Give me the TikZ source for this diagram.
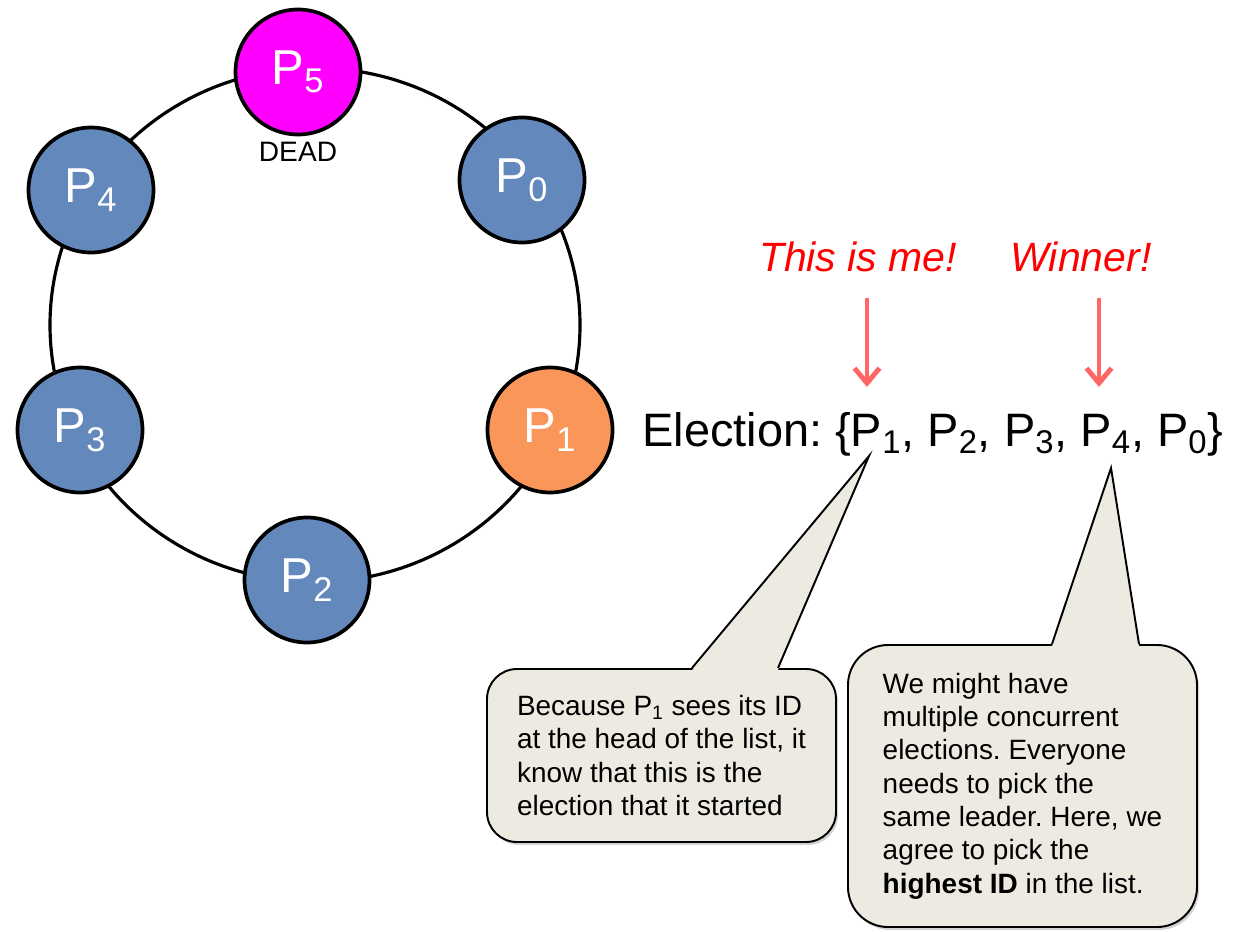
\documentclass[tikz,border=0pt]{standalone}
\usepackage{fontspec}
\setmainfont{Liberation Sans}
\usetikzlibrary{positioning,arrows.meta,shadows}
\definecolor{procblue}{RGB}{99,136,187}
\definecolor{procorange}{RGB}{250,150,90}
\definecolor{procdead}{RGB}{255,0,255}
\definecolor{notefill}{RGB}{237,235,225}
\definecolor{markred}{RGB}{255,102,102}
\newcommand{\proc}[1]{P\textsubscript{#1}}
\frenchspacing

\begin{document}
\begin{tikzpicture}[
	proc/.style={circle, draw, line width=2.1pt, fill=procblue, text=white,
		minimum size=2.5cm, inner sep=0pt, font=\fontsize{27.9}{30}\selectfont},
	ring/.style={line width=1.8pt},
	note/.style={draw, line width=1.1pt, fill=notefill, align=left,
		font=\fontsize{15.9}{19}\selectfont,
		drop shadow={shadow xshift=0.04cm, shadow yshift=-0.06cm, opacity=0.35}},
	noteedge/.style={line width=1.1pt},
	shout/.style={text=red, font=\fontsize{23.3}{26}\selectfont\itshape},
	pointer/.style={draw=markred, line width=2.8pt,
		-{Straight Barb[length=0.3cm, width=0.5cm]}}
]
\useasboundingbox (0,0) rectangle (24.72,-18.62);

	% the ring
	\draw[ring] (6.3,-6.5) ellipse [x radius=5.3, y radius=5.14];

	\node[proc, fill=procdead] (p5) at (5.96,-1.44) {\proc{5}};
	\node[proc] (p0) at (10.44,-3.60) {\proc{0}};
	\node[proc, fill=procorange] (p1) at (11.00,-8.60) {\proc{1}};
	\node[proc] (p2) at (6.14,-11.60) {\proc{2}};
	\node[proc] (p3) at (1.60,-8.60) {\proc{3}};
	\node[proc] (p4) at (1.82,-3.80) {\proc{4}};
	\node[below=0pt of p5, font=\fontsize{16}{18}\selectfont] (dead) {DEAD};

	% the message
	\node[anchor=base west, inner sep=0pt, font=\fontsize{26.7}{30}\selectfont] (election)
		at (12.84,-8.92) {Election: \{\proc{1}, \proc{2}, \proc{3}, \proc{4}, \proc{0}\}};

	\node[shout, anchor=base] (me) at (17.16,-5.42) {This is me!};
	\node[shout, anchor=base] (winner) at (21.62,-5.42) {Winner!};
	\coordinate (meTop) at (17.34,-5.96);
	\coordinate (meTip) at (17.34,-7.74);
	\coordinate (winTop) at (21.98,-5.96);
	\coordinate (winTip) at (21.98,-7.74);
	\draw[pointer] (meTop) -- (meTip);
	\draw[pointer] (winTop) -- (winTip);

	% callouts
	\node[note, rounded corners=0.6cm, minimum width=6.98cm, minimum height=3.46cm]
		(headnote) at (13.23,-15.11)
		{Because \proc{1} sees its ID\\ at the head of the list, it\\ know that this is the\\ election that it started};
	\coordinate (headL) at (13.84,-13.36);
	\coordinate (headR) at (15.56,-13.36);
	\coordinate (headTip) at (17.38,-9.12);
	\fill[notefill] ([yshift=-1.2pt]headL) -- (headTip) -- ([yshift=-1.2pt]headR) -- cycle;
	\draw[noteedge] (headL) -- (headTip) -- (headR);

	\node[note, rounded corners=0.8cm, minimum width=6.98cm, minimum height=5.64cm]
		(highnote) at (20.45,-15.72)
		{We might have\\ multiple concurrent\\ elections. Everyone\\ needs to pick the\\ same leader. Here, we\\ agree to pick the\\ \textbf{highest ID} in the list.};
	\coordinate (highL) at (21.04,-12.88);
	\coordinate (highR) at (22.78,-12.88);
	\coordinate (highTip) at (22.22,-9.36);
	\fill[notefill] ([yshift=-1.2pt]highL) -- (highTip) -- ([yshift=-1.2pt]highR) -- cycle;
	\draw[noteedge] (highL) -- (highTip) -- (highR);
\end{tikzpicture}
\end{document}
